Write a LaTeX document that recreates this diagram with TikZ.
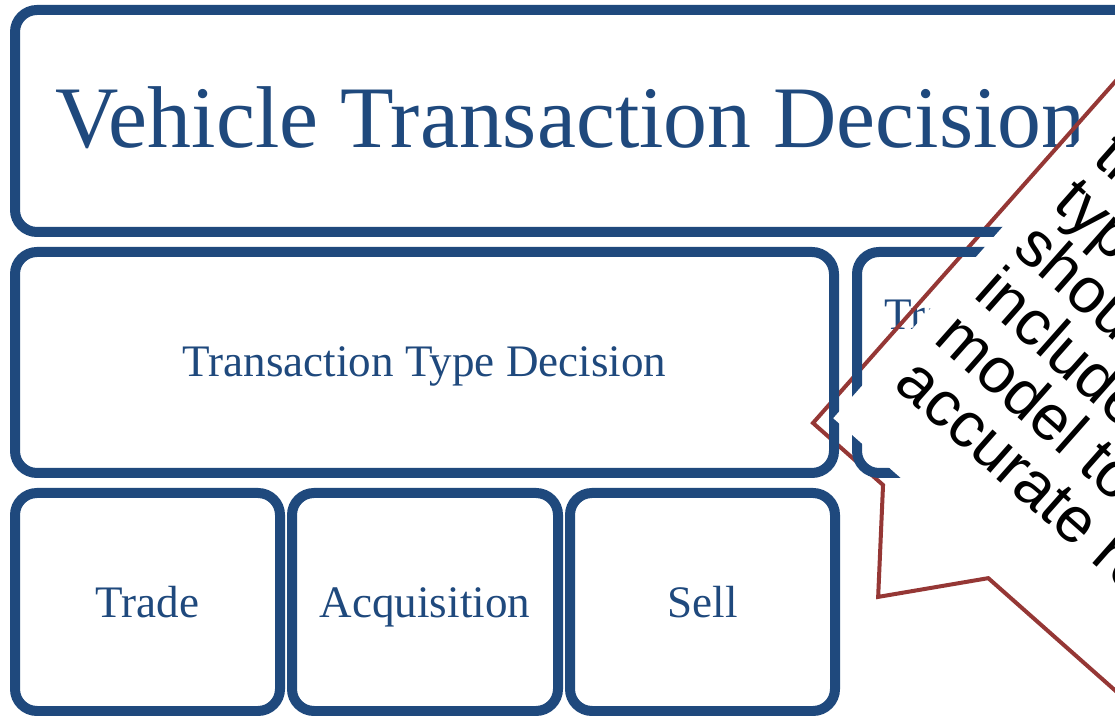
\documentclass[tikz,border=0pt]{standalone}
\usepackage{fontspec}
\setmainfont{Liberation Serif}
\newfontfamily\notefont{Liberation Sans}
\definecolor{tileblue}{HTML}{1F497D}
\definecolor{notered}{HTML}{953735}
\tikzset{
  tile/.style={draw=tileblue, line width=7.5pt, rounded corners=16.5pt},
  tiletext/.style={text=tileblue, inner sep=0pt, font=\fontsize{33.8}{40}\selectfont},
  % frame of the tilted note: origin at its left corner, x along the text lines, y towards their tops
  noteframe/.style={shift={(609.75pt,-317.25pt)}, x={(0.5618pt,-0.4973pt)}, y={(0.4973pt,0.5618pt)}},
  noteline/.style={anchor=base west, inner sep=0pt, rotate=-41.5, font=\notefont\fontsize{48}{45}\selectfont},
}
\begin{document}
\begin{tikzpicture}[x=0.75pt,y=-0.75pt]
\useasboundingbox (0,0) rectangle (1115,716);
\clip (0,0) rectangle (1115,716);
\fill[white] (0,0) rectangle (1115,716);

% tile labels
\node[tiletext, font=\fontsize{65.8}{72}\selectfont, anchor=base west] (title) at (55,148) {Vehicle Transaction Decision};
\node[tiletext, anchor=base] (ttype) at (424.5,377) {Transaction Type Decision};
\node[tiletext, anchor=base west] (tvalue) at (884,330) {Transaction};
\node[tiletext, anchor=base] (trade) at (147.5,618) {Trade};
\node[tiletext, anchor=base] (acq) at (425,618) {Acquisition};
\node[tiletext, anchor=base] (sell) at (702.5,618) {Sell};

% outline of the note with its pointer
\begin{scope}[noteframe]
  \draw[notered, line width=3pt, line join=miter]
    (0,700) -- (0,0) -- (93.5,0) -- (164,-87) -- (234,0) -- (700,0) -- (700,700) -- cycle;
\end{scope}

% tiles
\draw[tile] (15,10) rectangle (1400,232);
\draw[tile] (15,252) rectangle (834,473);
\draw[tile] (857,252) rectangle (1400,473);
\draw[tile] (15,493) rectangle (280,711);
\draw[tile] (292,493) rectangle (558,711);
\draw[tile] (570,493) rectangle (835,711);

% body of the note and its text
\begin{scope}[noteframe]
  \fill[white] (12,17) -- (12,700) -- (700,700) -- (700,17) -- cycle;
  \node[noteline] (n1) at (35,380) {the};
  \node[noteline] (n2) at (35,320) {type};
  \node[noteline] (n3) at (35,260) {should};
  \node[noteline] (n4) at (35,200) {include};
  \node[noteline] (n5) at (35,140) {model to};
  \node[noteline] (n6) at (35,80) {accurate results};
\end{scope}
\end{tikzpicture}
\end{document}
